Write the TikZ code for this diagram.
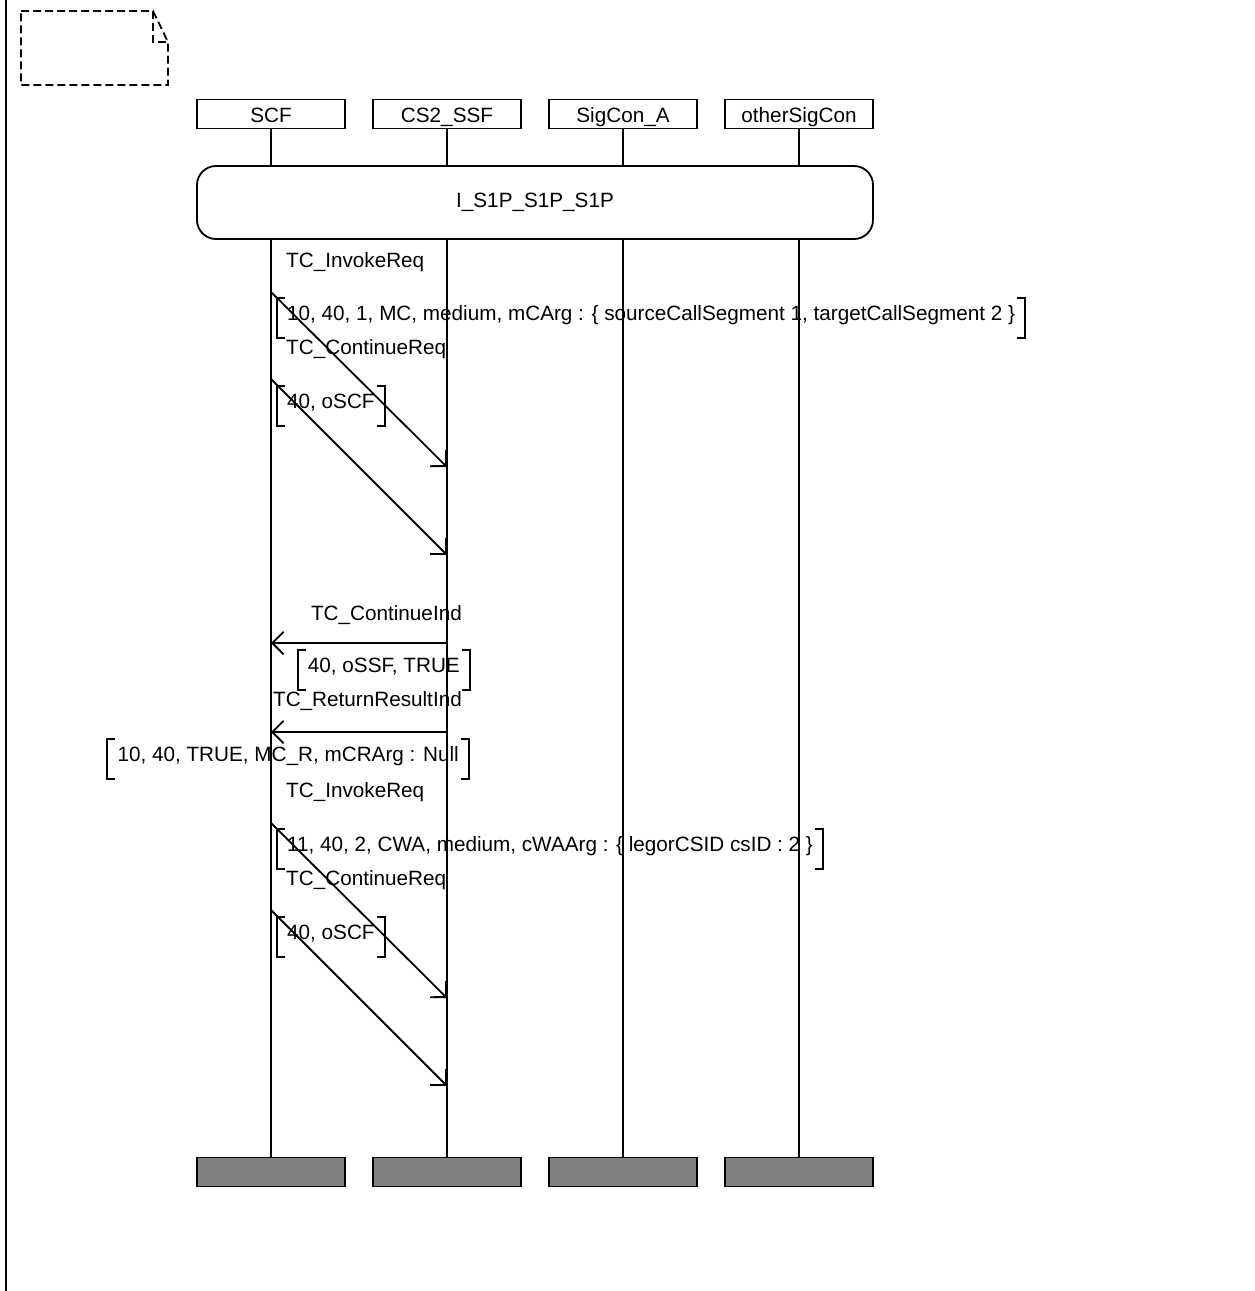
\documentclass[tikz,border=0pt]{standalone}
\usepackage{fontspec}
\setmainfont{Liberation Sans}
\usetikzlibrary{arrows.meta}
\newcommand\drawbrackets[1]{%
  \draw[brk] ([xshift=8pt]#1.north west) -| (#1.south west) -- ++(8pt,0pt);
  \draw[brk] ([xshift=-8pt]#1.north east) -| (#1.south east) -- ++(-8pt,0pt);}
\begin{document}
\begin{tikzpicture}[x=1pt,y=-1pt,
  every node/.style={font=\fontsize{20.7pt}{24pt}\selectfont},
  lifebox/.style={draw, line width=1.8pt, minimum width=148pt, minimum height=29pt, inner sep=0pt, text height=17pt, text depth=0pt},
  endbox/.style={lifebox, fill=black!50},
  life/.style={line width=1.8pt},
  msg/.style={line width=1.8pt, -{Straight Barb[angle=90:16pt]}},
  lbl/.style={inner sep=0pt, text height=15pt, text depth=4pt},
  param/.style={inner xsep=10pt, inner ysep=0pt, minimum height=40pt, text height=15pt, text depth=10pt},
  brk/.style={line width=1.8pt},
  note/.style={line width=1.8pt, dash pattern=on 8pt off 4pt}
]
\useasboundingbox (0,0) rectangle (1254,1291);

% frame line and note symbol
\draw[line width=2pt] (6,0) -- (6,1291);
\draw[note] (21,11) -- (153,11) -- (168,42) -- (168,85) -- (21,85) -- cycle;
\draw[note] (153,11) -- (153,42) -- (168,42);

% instance heads
\node[lifebox] (h1) at (271,114) {SCF};
\node[lifebox] (h2) at (447,114) {CS2\_SSF};
\node[lifebox] (h3) at (623,114) {SigCon\_A};
\node[lifebox] (h4) at (799,114) {otherSigCon};

% instance ends
\node[endbox] (f1) at (271,1172) {};
\node[endbox] (f2) at (447,1172) {};
\node[endbox] (f3) at (623,1172) {};
\node[endbox] (f4) at (799,1172) {};

% reference
\node[draw, line width=1.8pt, rounded corners=19pt, minimum width=676pt, minimum height=73pt, inner sep=0pt]
  (ref) at (535,202.5) {I\_S1P\_S1P\_S1P};

% lifelines
\foreach \i in {1,2,3,4}{
  \draw[life] (h\i.south) -- (h\i |- ref.north);
  \draw[life] (h\i |- ref.south) -- (f\i.north);
}

% message coordinates
\coordinate (a1s) at (271,292);  \coordinate (a1e) at (447,467);
\coordinate (a2s) at (271,379);  \coordinate (a2e) at (447,555);
\coordinate (a3s) at (447,643);  \coordinate (a3e) at (271,643);
\coordinate (a4s) at (447,732);  \coordinate (a4e) at (271,732);
\coordinate (a5s) at (271,823);  \coordinate (a5e) at (447,998);
\coordinate (a6s) at (271,910);  \coordinate (a6e) at (447,1086);

% block 1
\node[lbl, anchor=west] (l1) at (286,262) {TC\_InvokeReq};
\draw[msg] (a1s) -- (a1e);
\node[param, anchor=west] (p1) at (277,318) {10, 40, 1, MC, medium, mCArg : \{ sourceCallSegment 1, targetCallSegment 2 \}};
\drawbrackets{p1}
\node[lbl, anchor=west] (l2) at (286,349) {TC\_ContinueReq};
\draw[msg] (a2s) -- (a2e);
\node[param, anchor=west] (p2) at (277,406) {40, oSCF};
\drawbrackets{p2}

% block 2
\node[lbl, anchor=east] (l3) at (462,615) {TC\_ContinueInd};
\draw[msg] (a3s) -- (a3e);
\node[param, anchor=east] (p3) at (470,670) {40, oSSF, TRUE};
\drawbrackets{p3}
\node[lbl, anchor=east] (l4) at (462,701) {TC\_ReturnResultInd};
\draw[msg] (a4s) -- (a4e);
\node[param, anchor=east] (p4) at (469,759) {10, 40, TRUE, MC\_R, mCRArg : Null};
\drawbrackets{p4}

% block 3
\node[lbl, anchor=west] (l5) at (286,792) {TC\_InvokeReq};
\draw[msg] (a5s) -- (a5e);
\node[param, anchor=west] (p5) at (277,849) {11, 40, 2, CWA, medium, cWAArg : \{ legorCSID csID : 2 \}};
\drawbrackets{p5}
\node[lbl, anchor=west] (l6) at (286,880) {TC\_ContinueReq};
\draw[msg] (a6s) -- (a6e);
\node[param, anchor=west] (p6) at (277,937) {40, oSCF};
\drawbrackets{p6}
\end{tikzpicture}
\end{document}
